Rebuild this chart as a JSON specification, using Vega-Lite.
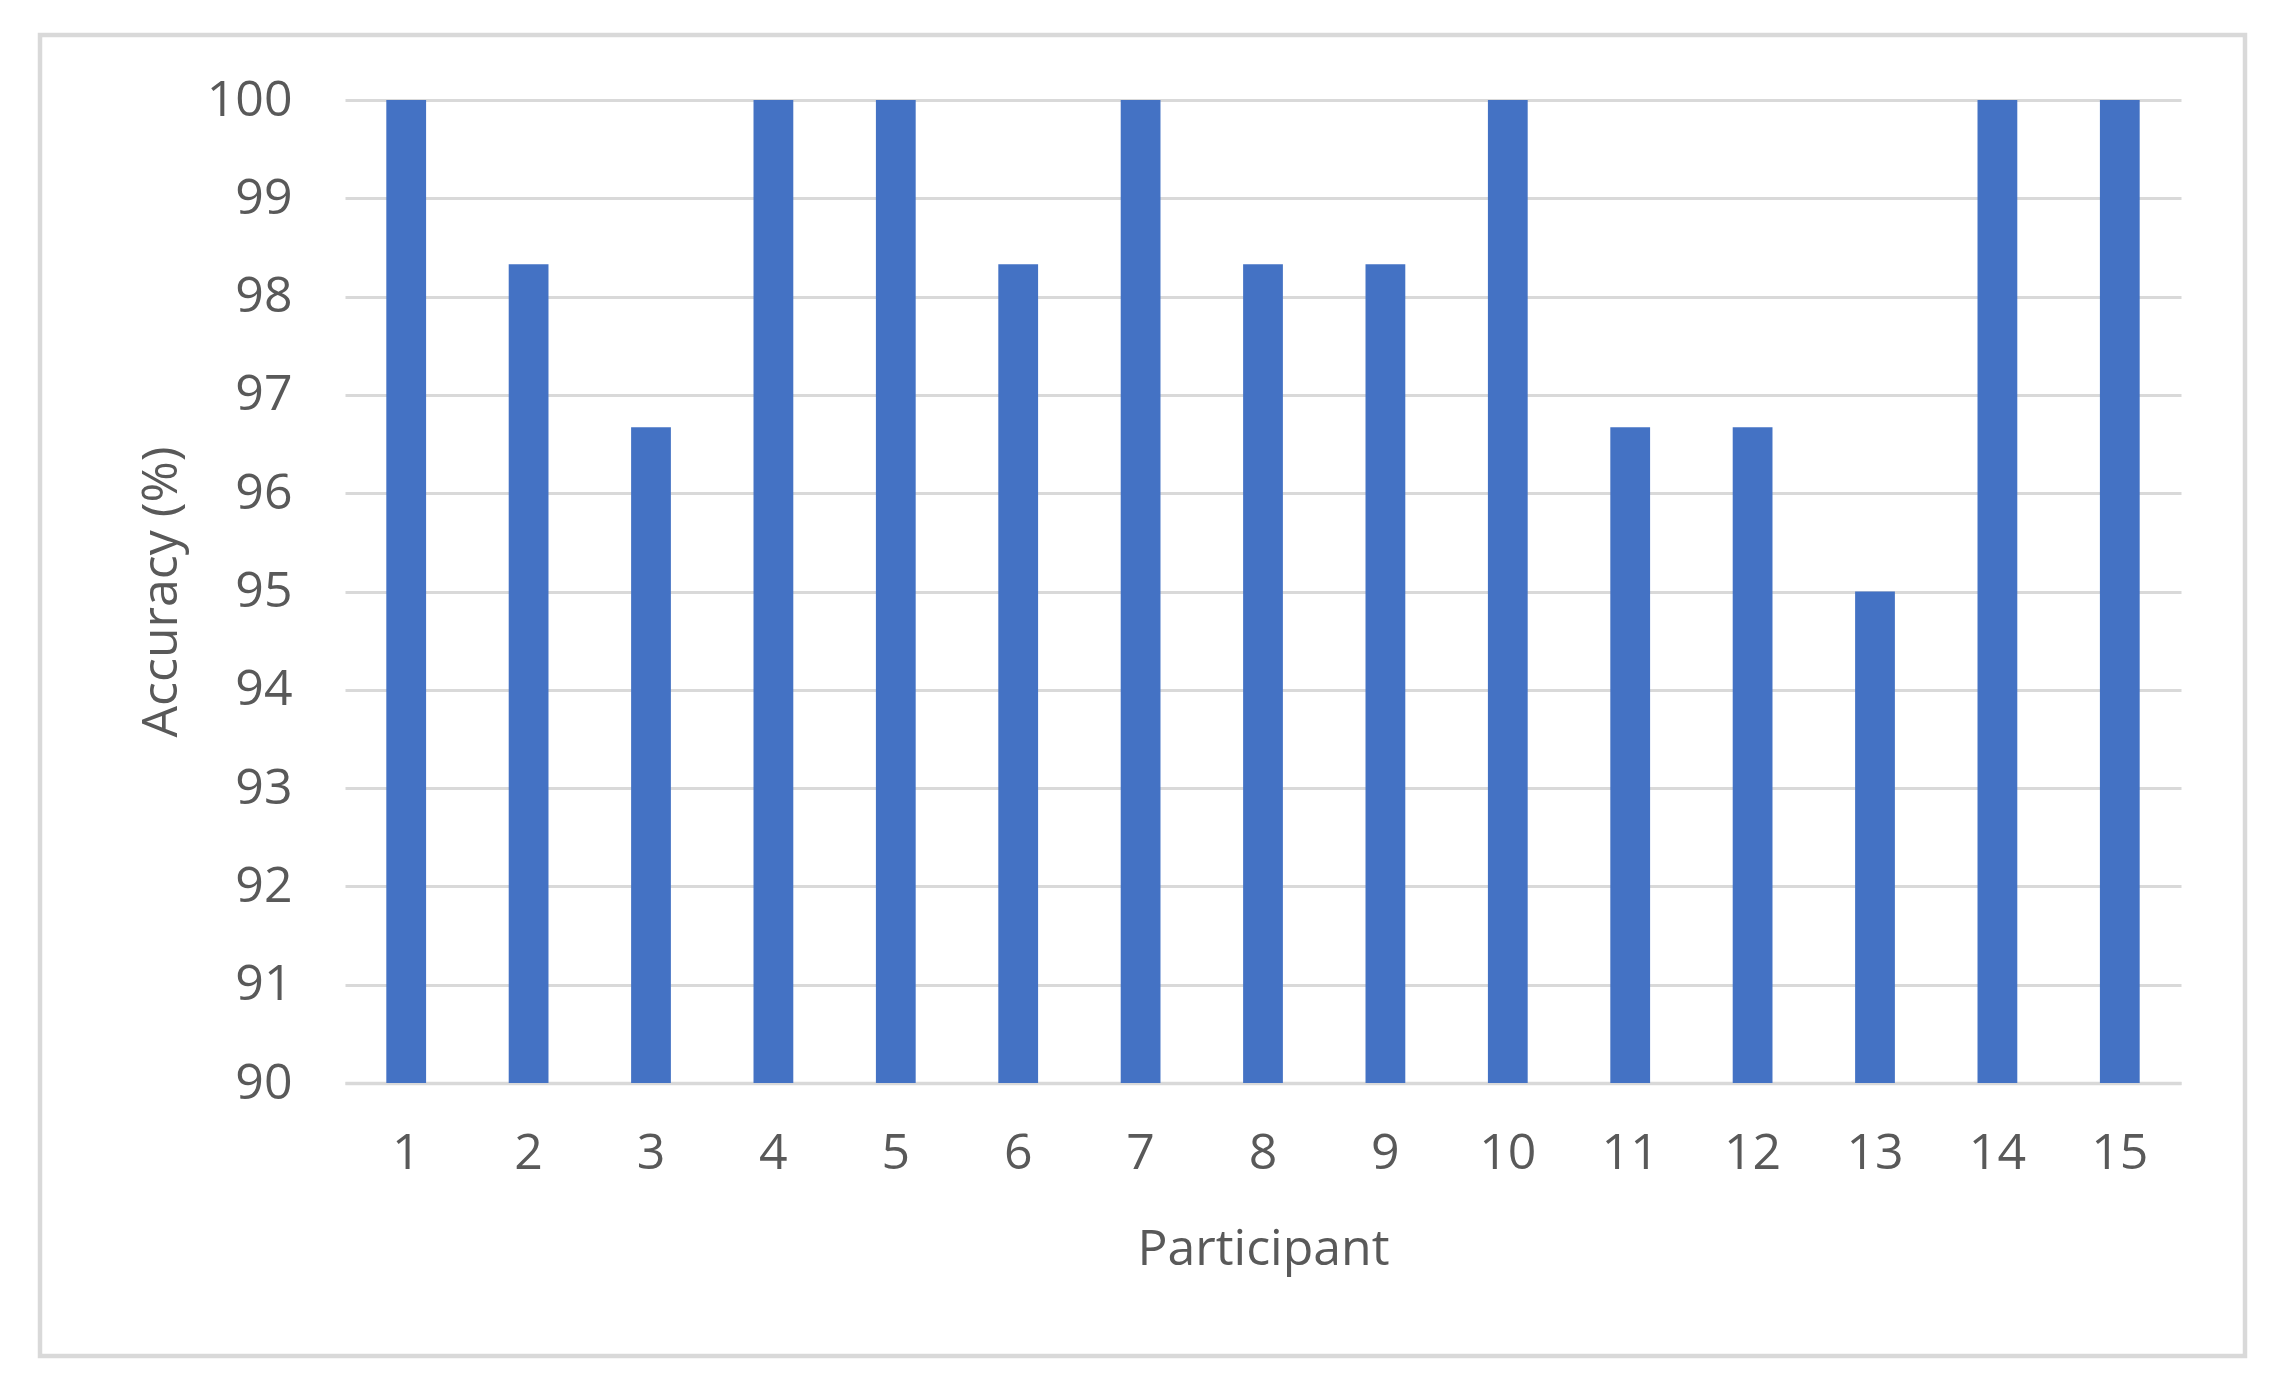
{
  "$schema": "https://vega.github.io/schema/vega-lite/v6.json",
  "autosize": {"type": "none"},
  "padding": {"left": 40, "top": 35, "right": 29, "bottom": 35},
  "width": 2205,
  "height": 1321,
  "background": "white",
  "config": {
    "view": {"stroke": "#d9d9d9", "strokeWidth": 4.5},
    "font": "Open Sans"
  },
  "data": {
    "values": [
      {"participant": 1, "accuracy": 100},
      {"participant": 2, "accuracy": 98.33},
      {"participant": 3, "accuracy": 96.67},
      {"participant": 4, "accuracy": 100},
      {"participant": 5, "accuracy": 100},
      {"participant": 6, "accuracy": 98.33},
      {"participant": 7, "accuracy": 100},
      {"participant": 8, "accuracy": 98.33},
      {"participant": 9, "accuracy": 98.33},
      {"participant": 10, "accuracy": 100},
      {"participant": 11, "accuracy": 96.67},
      {"participant": 12, "accuracy": 96.67},
      {"participant": 13, "accuracy": 95},
      {"participant": 14, "accuracy": 100},
      {"participant": 15, "accuracy": 100}
    ]
  },
  "mark": {"type": "bar", "color": "#4472C4"},
  "encoding": {
    "x": {
      "field": "participant",
      "type": "ordinal",
      "title": "Participant",
      "scale": {"range": [305, 2141], "paddingInner": 0.675, "paddingOuter": 0.3375},
      "axis": {
        "offset": -273,
        "labelAngle": 0,
        "ticks": false,
        "grid": false,
        "domainColor": "#d9d9d9",
        "domainWidth": 3.5,
        "labelFont": "Open Sans",
        "labelFontSize": 50,
        "labelColor": "#595959",
        "labelPadding": 45,
        "titleFont": "Open Sans",
        "titleFontSize": 50,
        "titleFontWeight": "normal",
        "titleColor": "#595959",
        "titlePadding": 46
      }
    },
    "y": {
      "field": "accuracy",
      "type": "quantitative",
      "title": "Accuracy (%)",
      "scale": {"domain": [90, 100], "range": [1048, 65], "nice": false, "zero": false},
      "axis": {
        "offset": -305,
        "values": [90, 91, 92, 93, 94, 95, 96, 97, 98, 99, 100],
        "domain": false,
        "ticks": false,
        "grid": true,
        "gridColor": "#d9d9d9",
        "gridWidth": 3,
        "labelFont": "Open Sans",
        "labelFontSize": 50,
        "labelColor": "#595959",
        "labelPadding": 53,
        "titleFont": "Open Sans",
        "titleFontSize": 50,
        "titleFontWeight": "normal",
        "titleColor": "#595959",
        "titlePadding": 20
      }
    },
    "y2": {"datum": 90}
  }
}
